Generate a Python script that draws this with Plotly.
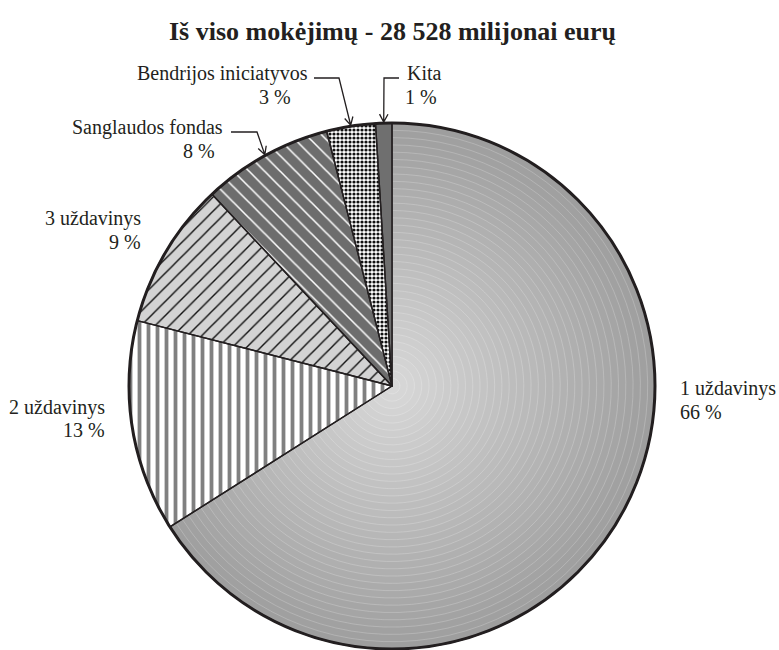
import math
import plotly.graph_objects as go

# Payment breakdown (share of total, %), clockwise from 12 o'clock
labels = ["1 uždavinys", "2 uždavinys", "3 uždavinys",
          "Sanglaudos fondas", "Bendrijos iniciatyvos", "Kita"]
shares = [66, 13, 9, 8, 3, 1]
title_text = "Iš viso mokėjimų - 28 528 milijonai eurų"

W, H = 779, 650
CX, CY, R = 392, 386, 263          # pie centre and radius in pixels
FONT = "Liberation Serif, DejaVu Serif, serif"
INK = "#231f20"


def px(x):
    return x / W


def py(y):
    return 1 - y / H


def domain(r):
    return dict(x=[px(CX - r), px(CX + r)], y=[py(CY + r), py(CY - r)])


common = dict(sort=False, direction="clockwise", rotation=0,
              textinfo="none", hoverinfo="skip", showlegend=False)

fig = go.Figure()

# Base slices with hatch / stipple fills
fills = ["#a3a3a3", "#ffffff", "#d3d3d3", "#6d6d6d", "#ffffff", "#6f6f6f"]
fig.add_trace(go.Pie(
    labels=labels, values=shares, domain=domain(R),
    marker=dict(
        colors=fills,
        line=dict(width=0),
        pattern=dict(
            shape=["", "|", "/", "\\", ".", ""],
            fgcolor=["#a3a3a3", "#808080", "#111111", "#ffffff", "#111111", "#6f6f6f"],
            bgcolor=fills,
            size=[8, 9, 10, 11, 4, 8],
            solidity=[0.3, 0.42, 0.14, 0.14, 0.5, 0.3],
            fillmode="replace",
        ),
    ),
    **common,
))

# Radial shading of the largest slice: concentric copies of the same pie,
# only the first slice filled, lighter towards the centre
n_rings = 36
edge_rgb = (158, 158, 158)
centre_rgb = (216, 216, 216)
for k in range(n_rings):
    t = k / (n_rings - 1)
    r = R * (1 - t * 0.97)
    c = tuple(round(e + (m - e) * t) for e, m in zip(edge_rgb, centre_rgb))
    col = f"rgb({c[0]},{c[1]},{c[2]})"
    fig.add_trace(go.Pie(
        labels=labels, values=shares, domain=domain(r),
        marker=dict(
            colors=[col] + ["rgba(0,0,0,0)"] * (len(shares) - 1),
            line=dict(color=["rgba(255,255,255,0.35)"] + ["rgba(0,0,0,0)"] * (len(shares) - 1),
                      width=0.6),
        ),
        **common,
    ))

# Heavy outer rim
fig.add_trace(go.Pie(
    labels=["total"], values=[sum(shares)], domain=domain(R),
    marker=dict(colors=["rgba(0,0,0,0)"], line=dict(color=INK, width=3)),
    **common,
))

# Slice dividers
fig.add_trace(go.Pie(
    labels=labels, values=shares, domain=domain(R),
    marker=dict(colors=["rgba(0,0,0,0)"] * len(shares), line=dict(color=INK, width=1.4)),
    **common,
))

# ---- Text labels -------------------------------------------------------
annotations = [dict(text=f"<b>{title_text}</b>", x=px(392), y=py(32),
                    xanchor="center", yanchor="middle", showarrow=False,
                    font=dict(family=FONT, size=26, color=INK))]

label_lines = [
    # (text, x px, y px, anchor)
    (labels[0], 678, 388, "left"), (f"{shares[0]} %", 678, 412, "left"),
    (labels[1], 107, 407, "right"), (f"{shares[1]} %", 107, 430, "right"),
    (labels[2], 143, 218, "right"), (f"{shares[2]} %", 143, 242, "right"),
    (labels[3], 225, 127, "right"), (f"{shares[3]} %", 217, 151, "right"),
    (labels[4], 310, 73, "right"), (f"{shares[4]} %", 293, 97, "right"),
    (labels[5], 405, 73, "left"), (f"{shares[5]} %", 403, 97, "left"),
]
for text, x, y, anchor in label_lines:
    annotations.append(dict(text=text, x=px(x), y=py(y), xanchor=anchor,
                            yanchor="middle", showarrow=False,
                            font=dict(family=FONT, size=20, color=INK)))

# ---- Leader lines with arrowheads for the thin slices ------------------
shapes = []
leaders = {
    # slice index: (start of horizontal run, elbow corner)
    3: ((231, 132), (257, 132)),
    4: ((314, 78), (339, 78)),
    5: ((399, 78), (384, 78)),
}
cum = [sum(shares[:i]) for i in range(len(shares))]
total = sum(shares)
for idx, (start, corner) in leaders.items():
    mid = (cum[idx] + shares[idx] / 2) / total * 2 * math.pi
    tx = CX + (R + 1) * math.sin(mid)
    ty = CY - (R + 1) * math.cos(mid)
    dx, dy = tx - corner[0], ty - corner[1]
    L = math.hypot(dx, dy)
    ux, uy = dx / L, dy / L
    wings = []
    for s in (+1, -1):
        a = math.radians(28) * s
        bx = -(ux * math.cos(a) - uy * math.sin(a))
        by = -(ux * math.sin(a) + uy * math.cos(a))
        wings.append((tx + 9 * bx, ty + 9 * by))
    path = (f"M {px(start[0])},{py(start[1])} L {px(corner[0])},{py(corner[1])} "
            f"L {px(tx)},{py(ty)} "
            f"M {px(wings[0][0])},{py(wings[0][1])} L {px(tx)},{py(ty)} "
            f"L {px(wings[1][0])},{py(wings[1][1])}")
    shapes.append(dict(type="path", xref="paper", yref="paper", path=path,
                       line=dict(color=INK, width=1.3)))

fig.update_layout(
    width=W, height=H,
    margin=dict(l=0, r=0, t=0, b=0),
    paper_bgcolor="white", plot_bgcolor="white",
    annotations=annotations, shapes=shapes,
    showlegend=False,
)

fig.write_html("out.html")
